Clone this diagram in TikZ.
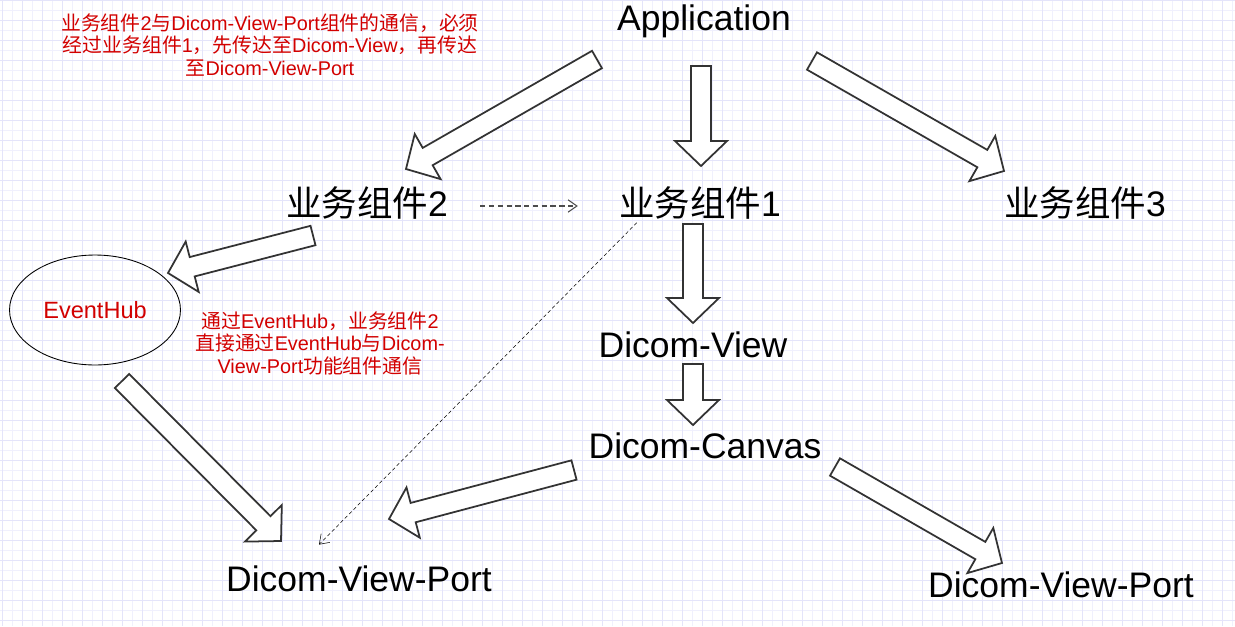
\documentclass[tikz,border=0pt]{standalone}
\usepackage{fontspec}
\setmainfont{Liberation Sans}
\newfontfamily\zh{Noto Sans CJK SC}
\usetikzlibrary{calc,shapes.geometric,arrows.meta}

\definecolor{gitterfein}{RGB}{240,240,253}
\definecolor{gittergrob}{RGB}{228,228,250}
\definecolor{pfeilrand}{RGB}{51,51,51}
\definecolor{notizrot}{RGB}{210,0,0}

% Masse der Hohlpfeile
\newcommand{\pfeilschaft}{0.2cm}
\newcommand{\pfeilkopf}{0.52cm}
\newcommand{\pfeilspitze}{0.5cm}

\tikzset{
	titel/.style={inner sep=0pt, font=\fontsize{20.2pt}{24pt}\selectfont},
	notiz/.style={inner sep=0pt, align=center, text=notizrot,
		font=\fontsize{11.3pt}{12.8pt}\selectfont},
	hohl/.style={line width=1pt, draw=pfeilrand, fill=white, line join=miter},
	strich/.style={draw=black!70, line width=0.6pt, dash pattern=on 3pt off 2pt,
		-{Straight Barb[length=5pt,width=7pt]}},
	duennstrich/.style={draw=black, line width=0.3pt, dash pattern=on 2pt off 1.5pt,
		-{Straight Barb[length=5pt,width=7pt]}}
}

% Hohlpfeil von #1 nach #2
\newcommand{\hohlpfeil}[2]{%
	\path ($(#2)!\pfeilspitze!(#1)$) coordinate (hp-basis);
	\filldraw[hohl] ($(#1)!\pfeilschaft!90:(#2)$)
		-- ($(hp-basis)!\pfeilschaft!90:(#2)$)
		-- ($(hp-basis)!\pfeilkopf!90:(#2)$)
		-- (#2)
		-- ($(hp-basis)!\pfeilkopf!-90:(#2)$)
		-- ($(hp-basis)!\pfeilschaft!-90:(#2)$)
		-- ($(#1)!\pfeilschaft!-90:(#2)$) -- cycle;
}

\begin{document}
\begin{tikzpicture}[x=0.02cm, y=-0.02cm]
	\useasboundingbox (0,0) rectangle (1235,626);
	% Gitter im Hintergrund
	\fill[white] (0,0) rectangle (1235,626);
	\foreach \x in {2,12,...,1232}
		\draw[gitterfein, line width=0.5pt] (\x,0) -- (\x,626);
	\foreach \y in {0,10,...,620}
		\draw[gitterfein, line width=0.5pt] (0,\y) -- (1235,\y);
	\foreach \x in {2,22,...,1222}
		\draw[gittergrob, line width=0.5pt] (\x,0) -- (\x,626);
	\foreach \y in {0,20,...,620}
		\draw[gittergrob, line width=0.5pt] (0,\y) -- (1235,\y);

	% Komponenten
	\node[titel] (app) at (704,21) {Application};
	\node[titel] (b2) at (367,203) {{\zh 业务组件}2};
	\node[titel] (b1) at (700,203) {{\zh 业务组件}1};
	\node[titel] (b3) at (1085,203) {{\zh 业务组件}3};
	\node[titel] (view) at (693,345) {Dicom-View};
	\node[titel] (canvas) at (705,446) {Dicom-Canvas};
	\node[titel] (portl) at (359,579) {Dicom-View-Port};
	\node[titel] (portr) at (1061,585) {Dicom-View-Port};
	\node[ellipse, draw, line width=0.5pt, minimum width=3.42cm,
		minimum height=2.2cm, inner sep=0pt, text=notizrot,
		font=\fontsize{13.4pt}{15pt}\selectfont] (hub) at (95,310) {EventHub};

	% Anmerkungen
	\node[notiz] (notiz1) at (270,45)
		{{\zh 业务组件}2{\zh 与}Dicom-View-Port{\zh 组件的通信，必须}\\
		{\zh 经过业务组件}1{\zh ，先传达至}Dicom-View{\zh ，再传达}\\
		{\zh 至}Dicom-View-Port};
	\node[notiz] (notiz2) at (320,343)
		{{\zh 通过}EventHub{\zh ，业务组件}2\\
		{\zh 直接通过}EventHub{\zh 与}Dicom-\\
		View-Port{\zh 功能组件通信}};

	% Hohlpfeile
	\coordinate (a1s) at (597,59.5); \coordinate (a1e) at (406,169);
	\coordinate (a2s) at (701,66);   \coordinate (a2e) at (701,166);
	\coordinate (a3s) at (812,61);   \coordinate (a3e) at (1004,171);
	\coordinate (a4s) at (313,235.5); \coordinate (a4e) at (168,273);
	\coordinate (a5s) at (693,224);  \coordinate (a5e) at (693,323);
	\coordinate (a6s) at (693,364);  \coordinate (a6e) at (693,425);
	\coordinate (a7s) at (122,381);  \coordinate (a7e) at (281,541);
	\coordinate (a8s) at (574,470);  \coordinate (a8e) at (389,519);
	\coordinate (a9s) at (835,467);  \coordinate (a9e) at (1002,563);
	\foreach \n in {1,...,9}{
		\hohlpfeil{a\n s}{a\n e}
	}

	% gestrichelte Verbindungen
	\draw[strich, shorten <=0.64cm, shorten >=0.82cm]
		([yshift=-0.06cm]b2.east) -- ([yshift=-0.06cm]b1.west);
	\draw[duennstrich] ($(b1.south west)+(18,3)$) -- ($(portl.north)+(-40,-21)$);
\end{tikzpicture}
\end{document}
